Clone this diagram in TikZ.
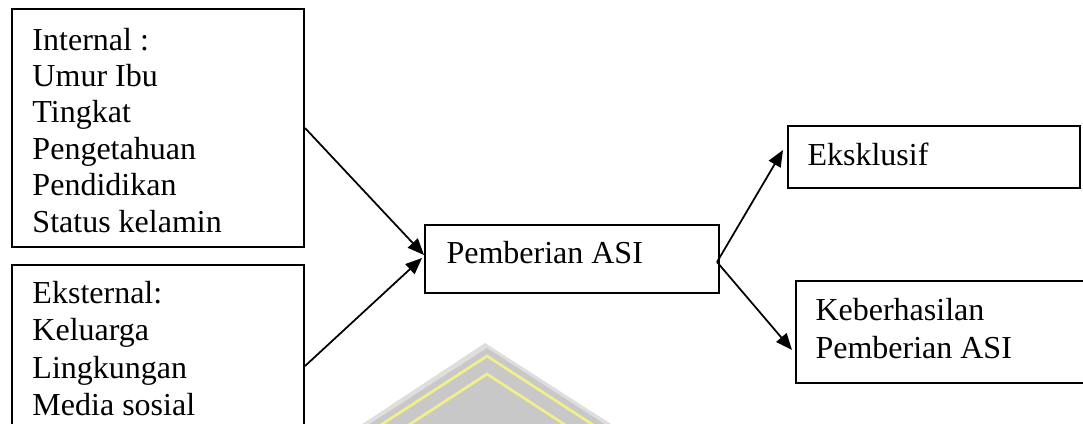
\documentclass[tikz,border=0pt]{standalone}
\usepackage{fontspec}
\setmainfont{Liberation Serif}
\usetikzlibrary{arrows.meta,calc}
\definecolor{wmgray}{RGB}{200,200,200}
\definecolor{wmedge}{RGB}{222,222,222}
\definecolor{wmyellow}{RGB}{242,238,140}
\begin{document}
\begin{tikzpicture}[x=0.4pt,y=-0.4pt,
  box/.style={draw,line width=0.8pt,rectangle,inner sep=0pt,anchor=north west},
  txt/.style={anchor=base west,inner sep=0pt,font=\fontsize{12.8}{15}\selectfont},
  link/.style={line width=0.7pt,-{Triangle[length=6.6pt,width=5.4pt]}}]
\useasboundingbox (0,0) rectangle (1083,423);
\clip (0,0) rectangle (1083,423);

% faint roof emblem behind the lower part
\fill[wmedge] (485,343) -- (338,440) -- (636,440) -- cycle;
\fill[wmgray] (487,348) -- (345,440) -- (629,440) -- cycle;
\draw[wmyellow,line width=1.1pt] (333,456) -- (487,356) -- (641,456);
\draw[wmyellow,line width=1.1pt] (361,456) -- (487,374) -- (613,456);

% boxes
\node[box,minimum width=116.8pt,minimum height=95.2pt] (int) at (11,8) {};
\node[box,minimum width=116.8pt,minimum height=80.8pt] (ext) at (11,264) {};
\node[box,minimum width=117.6pt,minimum height=27.2pt] (pa) at (424,224) {};
\node[box,minimum width=116.8pt,minimum height=24.8pt] (eks) at (787,125) {};
\node[box,minimum width=120pt,minimum height=40.8pt] (keb) at (795,280) {};

% texts
\foreach \t [count=\i from 0] in {Internal :,Umur Ibu,Tingkat,Pengetahuan,Pendidikan,Status kelamin}
  \node[txt] (int-\i) at (32,50+36.4*\i) {\t};
\foreach \t [count=\i from 0] in {Eksternal:,Keluarga,Lingkungan,Media sosial}
  \node[txt] (ext-\i) at (32,303+37.6*\i) {\t};
\node[txt] (pa-t) at (446,263) {Pemberian ASI};
\node[txt] (eks-t) at (807,165) {Eksklusif};
\node[txt] (keb-1) at (815,320) {Keberhasilan};
\node[txt] (keb-2) at (815,358) {Pemberian ASI};

% connectors
\draw[link] (int.east) -- ($(pa.north west)+(0,31)$);
\draw[link] (ext.east) -- ($(pa.north west)+(-2,34)$);
\draw[link] ($(pa.north east)+(-3,38)$) -- ($(eks.north west)+(-4,25)$);
\draw[link] ($(pa.north east)+(-3,38)$) -- ($(keb.north west)+(-3,70)$);
\end{tikzpicture}
\end{document}
